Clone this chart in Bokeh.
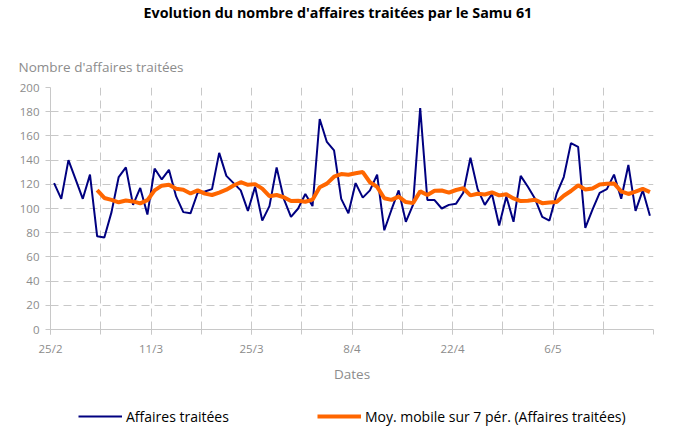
import pandas as pd
from bokeh.plotting import figure
from bokeh.layouts import column
from bokeh.models import (ColumnDataSource, FixedTicker, Title, Legend, LegendItem,
                          Range1d)
from bokeh.embed import file_html
from bokeh.resources import INLINE

# ---- data ----
affaires = [121, 108, 140, 124, 108, 128, 77, 76, 97, 126, 134, 103, 117, 95,
            133, 124, 132, 110, 97, 96, 113, 114, 116, 146, 127, 121, 115, 98,
            118, 90, 102, 134, 108, 93, 100, 112, 102, 174, 155, 148, 108, 96,
            121, 109, 115, 128, 82, 99, 115, 89, 103, 183, 107, 107, 100, 103,
            104, 113, 142, 116, 103, 112, 86, 110, 89, 127, 118, 108, 93, 90,
            112, 126, 154, 151, 84, 99, 113, 116, 128, 108, 136, 98, 115, 94]
start_date = "2019-02-25"
tick_days = [0, 14, 28, 42, 56, 70]
tick_labels = ["25/2", "11/3", "25/3", "8/4", "22/4", "6/5"]
y_ticks = [0, 20, 40, 60, 80, 100, 120, 140, 160, 180, 200]
series_names = ["Affaires traitées", "Moy. mobile sur 7 pér. (Affaires traitées)"]

dates = pd.date_range(start_date, periods=len(affaires), freq="D")
day = [(d - dates[0]).days + 0.5 for d in dates]
moy = pd.Series(affaires).rolling(7).mean()

src = ColumnDataSource(dict(x=day, y=affaires))
ma_src = ColumnDataSource(dict(x=day[6:], y=list(moy[6:])))

FONT = "Open Sans"
GRAY = "#8c8c8c"
BLUE = "#000080"
ORANGE = "#ff6600"

p = figure(width=668, height=392, output_backend="svg", toolbar_location=None,
           x_range=Range1d(0, len(affaires)), y_range=Range1d(0, 200),
           min_border_left=50, min_border_right=15, min_border_top=0,
           min_border_bottom=63,
           title="Evolution du nombre d'affaires traitées par le Samu 61")
p.outline_line_color = None
p.title.align = "left"
p.title.offset = 93
p.title.text_font = FONT
p.title.text_font_style = "bold"
p.title.text_font_size = "14.3px"
p.title.text_color = "#000000"
p.title.standoff = 0

# closest to the frame first
p.add_layout(Title(text="Nombre d'affaires traitées", align="left", offset=-32,
                   text_font=FONT, text_font_style="normal",
                   text_font_size="13.5px", text_color=GRAY, standoff=24),
             "above")
p.add_layout(Title(text=" ", text_font_size="1px", standoff=19), "above")

# grids
p.xgrid.ticker = FixedTicker(ticks=list(range(7, len(affaires) + 1, 7)))
p.ygrid.ticker = FixedTicker(ticks=y_ticks)
for g in (p.xgrid, p.ygrid):
    g.grid_line_color = "#c8c8c8"
    g.grid_line_dash = "8 5"
    g.grid_line_width = 1

# axes
p.xaxis.ticker = FixedTicker(ticks=tick_days,
                             minor_ticks=list(range(0, len(affaires) + 1, 7)))
p.xaxis.major_label_overrides = {d: l for d, l in zip(tick_days, tick_labels)}
p.yaxis.ticker = FixedTicker(ticks=y_ticks)
for ax in (p.xaxis, p.yaxis):
    ax.axis_line_color = "#c8c8c8"
    ax.major_tick_line_color = "#c8c8c8"
    ax.minor_tick_line_color = "#c8c8c8"
    ax.major_tick_out = 5
    ax.major_tick_in = 0
    ax.minor_tick_out = 5
    ax.minor_tick_in = 0
    ax.major_label_text_color = GRAY
    ax.major_label_text_font = FONT
    ax.major_label_text_font_size = "11.5px"
p.yaxis.minor_tick_line_color = None
p.yaxis.major_label_standoff = 6
p.xaxis.major_label_standoff = 6
p.xaxis.axis_label = "Dates"
p.xaxis.axis_label_text_font = FONT
p.xaxis.axis_label_text_font_style = "normal"
p.xaxis.axis_label_text_font_size = "13.5px"
p.xaxis.axis_label_text_color = GRAY
p.xaxis.axis_label_standoff = 6

p.line("x", "y", source=src, line_color=BLUE, line_width=2)
p.line("x", "y", source=ma_src, line_color=ORANGE, line_width=4)

# legend strip below the chart (its lines share the chart's data, which lies
# outside this strip's ranges, so only the legend shows)
lg = figure(width=668, height=48, output_backend="svg", toolbar_location=None,
            x_range=Range1d(0, 1), y_range=Range1d(0, 1),
            x_axis_type=None, y_axis_type=None, min_border=0)
lg.outline_line_color = None
lg.grid.visible = False
k1 = lg.line("x", "y", source=src, line_color=BLUE, line_width=2)
k2 = lg.line("x", "y", source=ma_src, line_color=ORANGE, line_width=4)
legend = Legend(items=[LegendItem(label=series_names[0], renderers=[k1]),
                       LegendItem(label=series_names[1], renderers=[k2])],
                orientation="horizontal", location=(28, 14),
                glyph_width=44, glyph_height=20, label_standoff=4, spacing=88,
                label_text_font=FONT, label_text_font_size="14px",
                label_text_color="#000000", border_line_color=None,
                background_fill_alpha=0, margin=0, padding=0)
lg.add_layout(legend, "center")

page = column(p, lg, spacing=0)
open("out.html", "w").write(file_html(page, INLINE))
